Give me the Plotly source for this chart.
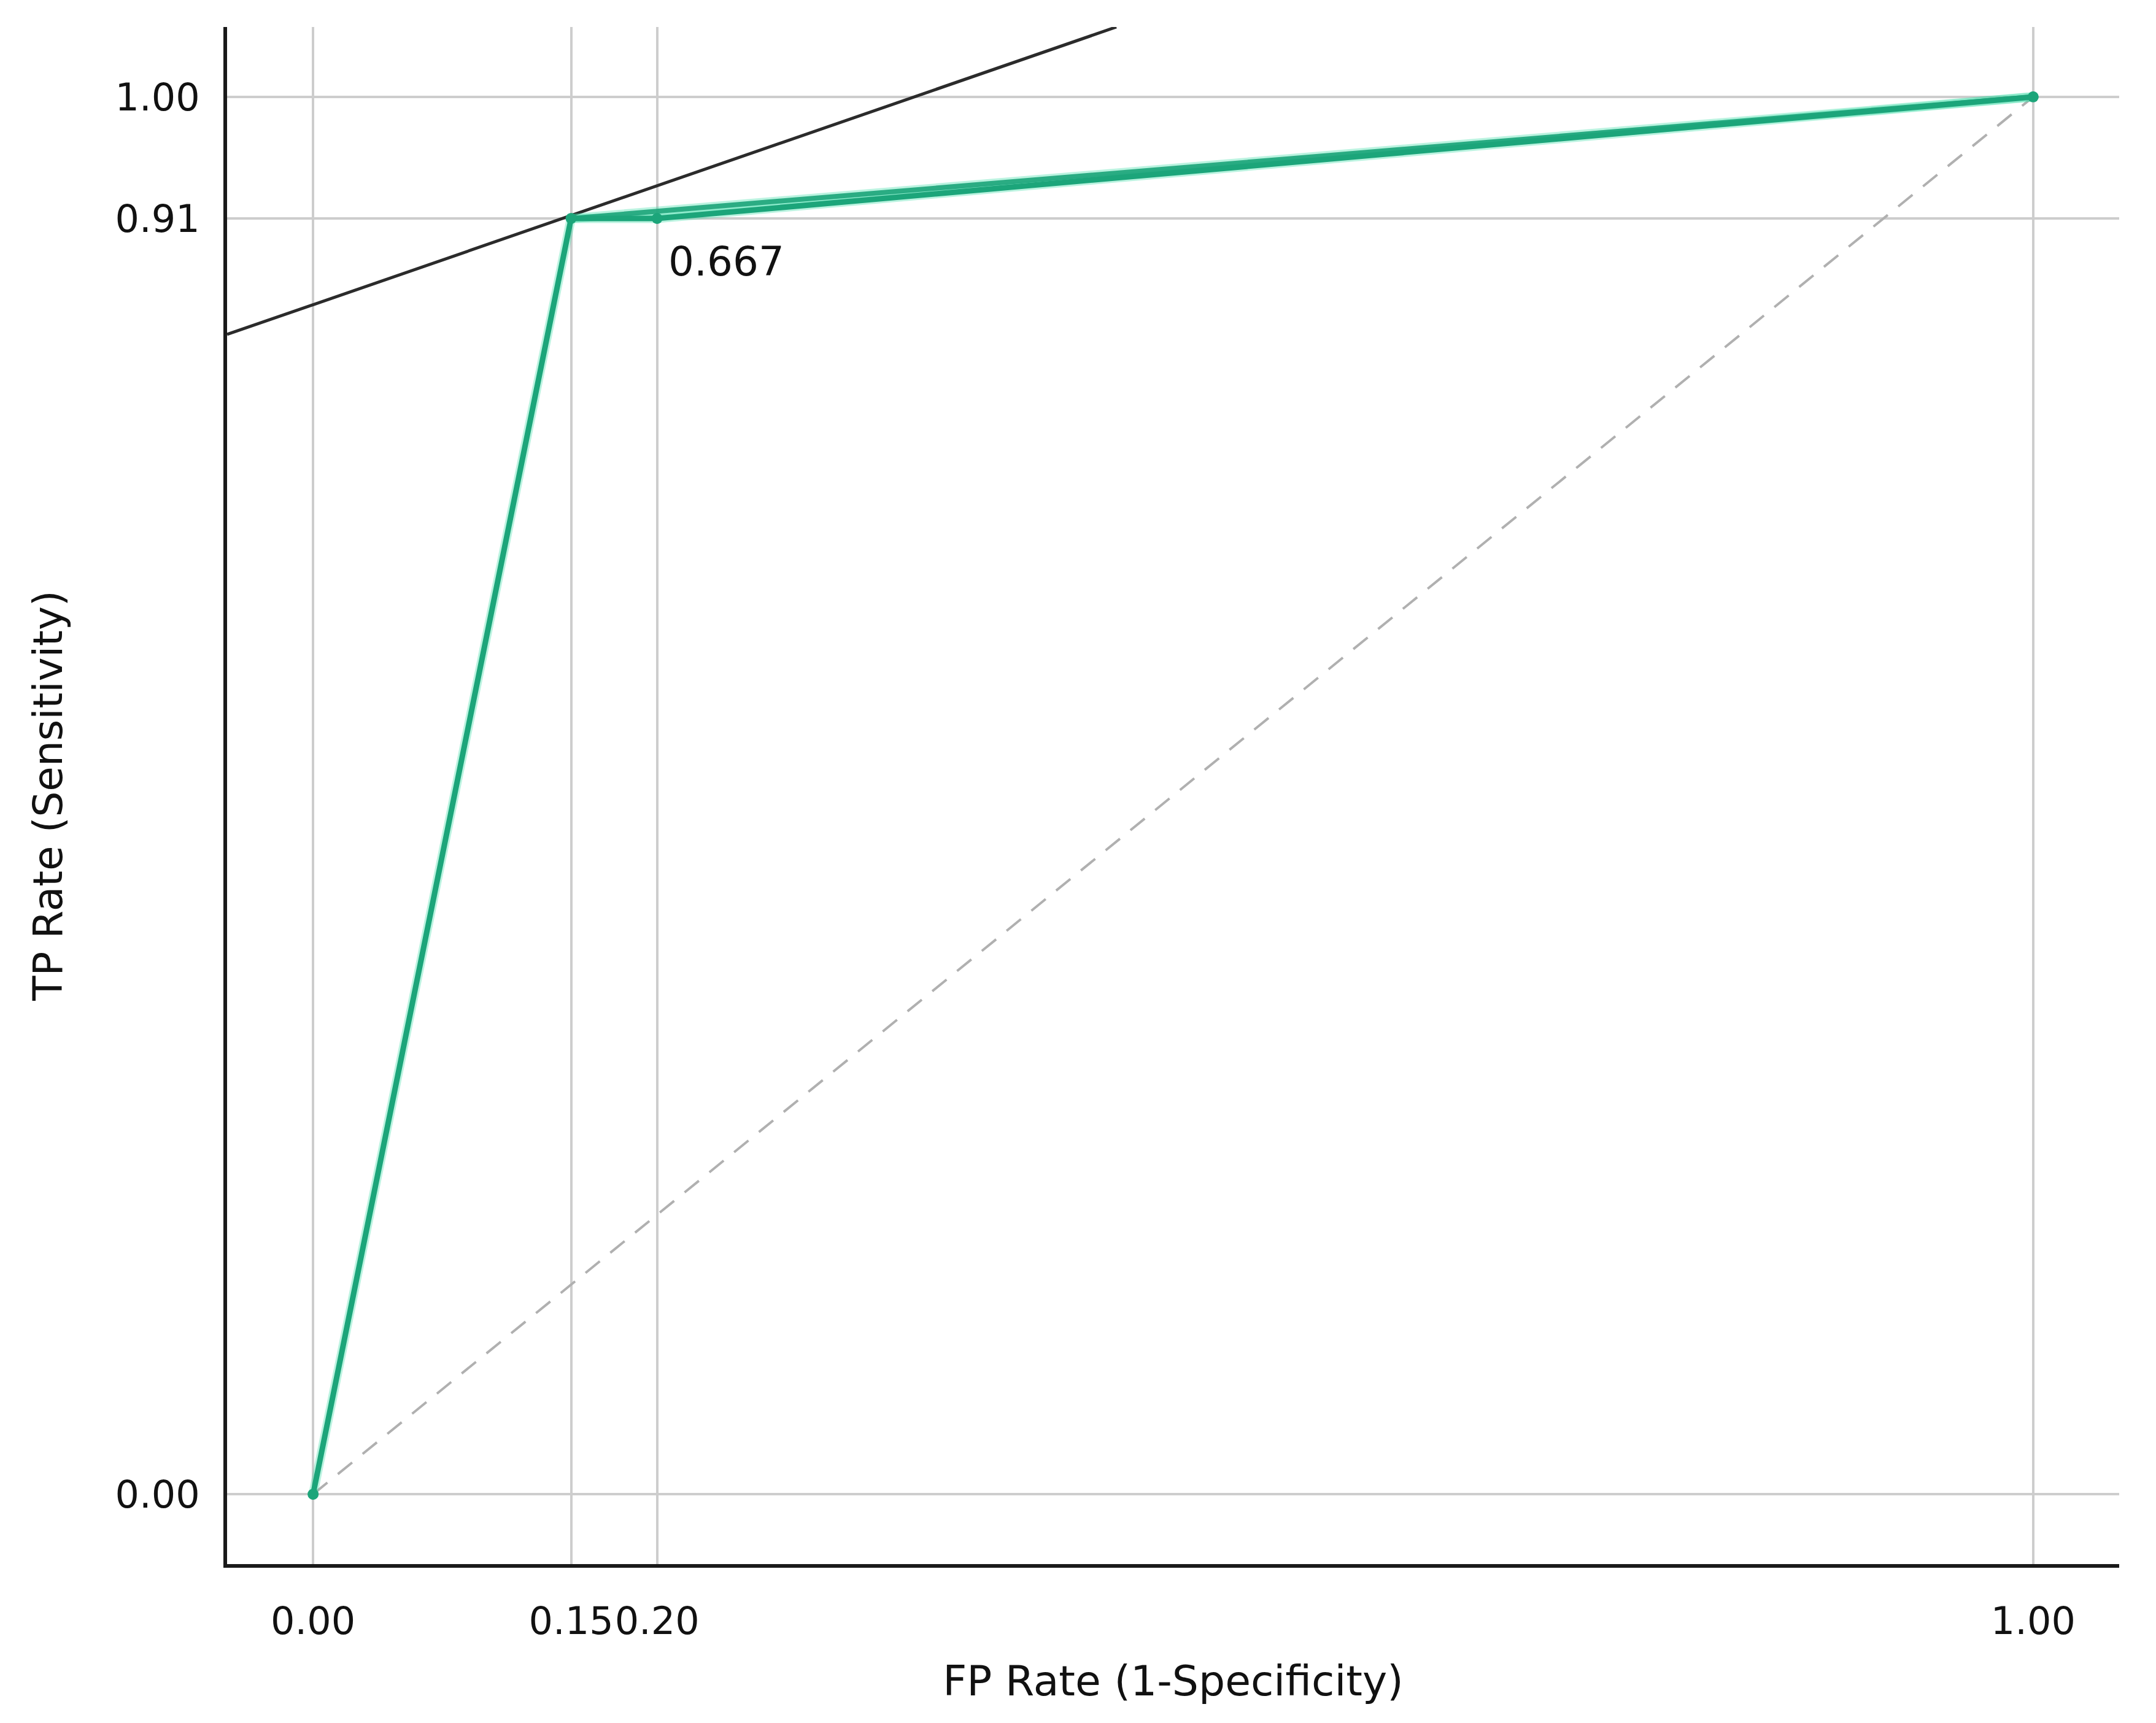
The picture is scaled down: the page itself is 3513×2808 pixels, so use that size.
import plotly.graph_objects as go

# ROC curve points (FP rate, TP rate) and thresholds
fpr = [0.0, 0.15, 0.20, 1.0]
tpr = [0.0, 0.913, 0.913, 1.0]
threshold_label = "0.667"
threshold_idx = 2

# convex hull of the curve
hull_fpr = [0.15, 1.0]
hull_tpr = [0.913, 1.0]

# iso-performance (tangent) line end points
iso_x = [-0.05, 0.467]
iso_y = [0.830, 1.05]

# chance diagonal
diag_x = [0.0, 1.0]
diag_y = [0.0, 1.0]

x_ticks = [0.0, 0.15, 0.20, 1.0]
y_ticks = [0.0, 0.913, 1.0]

colors = {
    'roc': '#1ca57a',
    'roc_glow': 'rgba(60, 220, 165, 0.35)',
    'grid': '#cdcdcd',
    'axis': '#1a1a1a',
    'iso': '#2b2b2b',
    'diag': '#b0b0b0',
    'text': '#111111',
}
FONT = 'DejaVu Sans'

fig = go.Figure()

fig.add_trace(go.Scatter(
    x=diag_x, y=diag_y, mode='lines',
    line=dict(color=colors['diag'], width=4, dash='30px,22px'),
    hoverinfo='skip', showlegend=False
))

fig.add_trace(go.Scatter(
    x=iso_x, y=iso_y, mode='lines',
    line=dict(color=colors['iso'], width=5),
    hoverinfo='skip', showlegend=False
))

# soft glow under the curves
for xs, ys in [(hull_fpr, hull_tpr), (fpr, tpr)]:
    fig.add_trace(go.Scatter(
        x=xs, y=ys, mode='lines',
        line=dict(color=colors['roc_glow'], width=15),
        hoverinfo='skip', showlegend=False
    ))

fig.add_trace(go.Scatter(
    x=hull_fpr, y=hull_tpr, mode='lines',
    line=dict(color=colors['roc'], width=8),
    opacity=0.9,
    hoverinfo='skip', showlegend=False
))

fig.add_trace(go.Scatter(
    x=fpr, y=tpr, mode='lines+markers',
    line=dict(color=colors['roc'], width=9),
    marker=dict(size=18, color=colors['roc']),
    showlegend=False
))

fig.add_annotation(
    x=fpr[threshold_idx], y=tpr[threshold_idx],
    text=threshold_label, showarrow=False,
    xanchor='left', yanchor='top',
    xshift=16, yshift=-30,
    font=dict(family=FONT, size=66, color=colors['text'])
)

axis_common = dict(
    showgrid=True, gridcolor=colors['grid'], gridwidth=4,
    zeroline=False, showline=True, linecolor=colors['axis'], linewidth=6,
    mirror=False, ticks='', tickformat='.2f',
    tickfont=dict(family=FONT, size=62, color=colors['text']),
)

fig.update_layout(
    width=3513, height=2808,
    plot_bgcolor='white', paper_bgcolor='white',
    margin=dict(l=362, r=68, t=36, b=267),
    xaxis=dict(
        axis_common, range=[-0.05, 1.05], tickvals=x_ticks, tickangle=0,
        ticklabelstandoff=34,
        title=dict(text='FP Rate (1-Specificity)', standoff=40,
                   font=dict(family=FONT, size=68, color=colors['text'])),
    ),
    yaxis=dict(
        axis_common, range=[-0.05, 1.05], tickvals=y_ticks,
        ticklabelstandoff=26,
        title=dict(text='TP Rate (Sensitivity)', standoff=66,
                   font=dict(family=FONT, size=66, color=colors['text'])),
    ),
)

fig.write_html("out.html")
